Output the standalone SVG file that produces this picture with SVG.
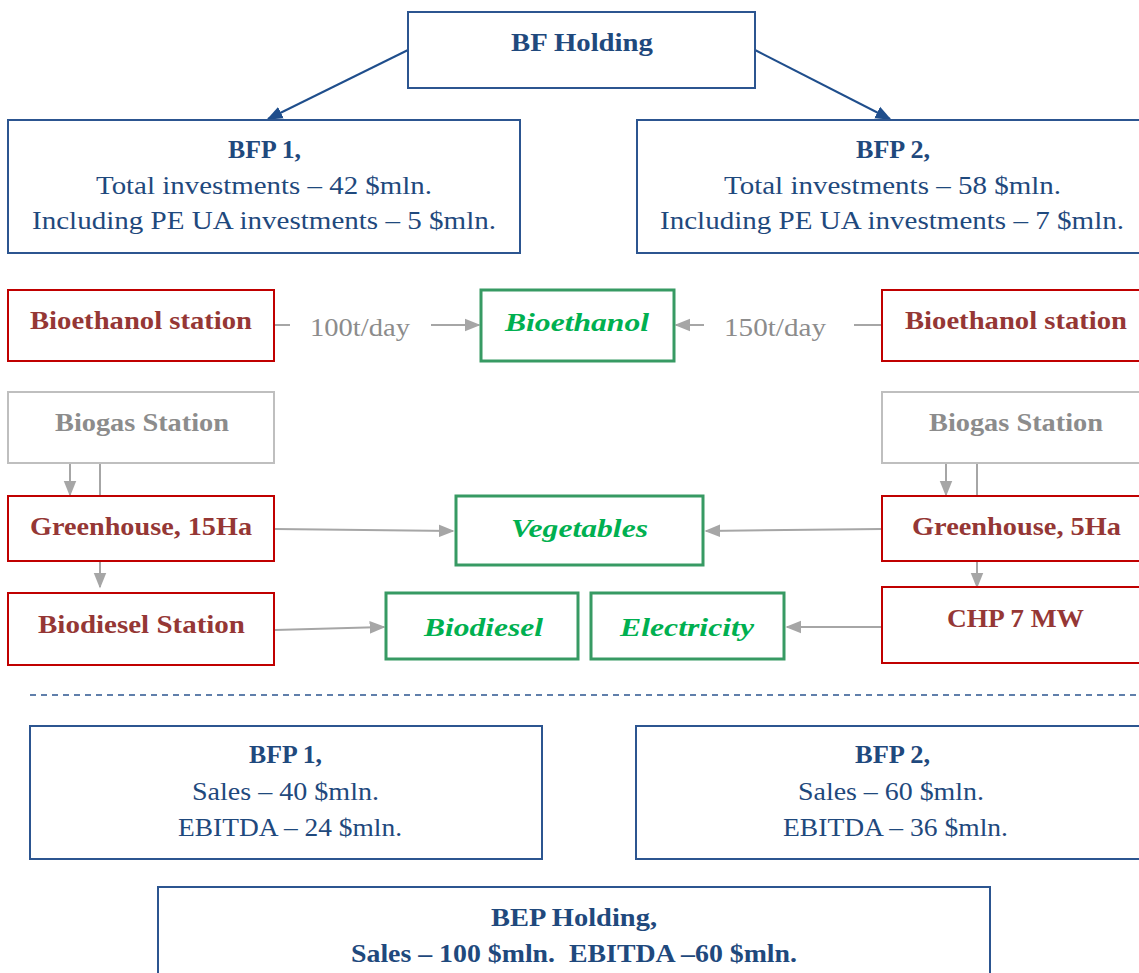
<svg xmlns="http://www.w3.org/2000/svg" width="1139" height="973" viewBox="0 0 1139 973">
<defs>
<marker id="ag" viewBox="0 0 10 10" refX="9" refY="5" markerWidth="16" markerHeight="16" markerUnits="userSpaceOnUse" orient="auto"><path d="M0,1 L10,5 L0,9 z" fill="#a6a6a6"/></marker>
<marker id="abig" viewBox="0 0 10 10" refX="9" refY="5" markerWidth="16" markerHeight="16" markerUnits="userSpaceOnUse" orient="auto"><path d="M0,1 L10,5 L0,9 z" fill="#1f4e8c"/></marker>
</defs>
<style>
text{font-family:"Liberation Serif","DejaVu Serif",serif;text-anchor:middle;font-size:25px}
.blue rect{fill:#fff;stroke:#2c5590;stroke-width:2}
.blue text{fill:#1f497d}
.red rect{fill:#fff;stroke:#c00000;stroke-width:2}
.red text{fill:#953735;font-weight:bold}
.grn rect{fill:#fff;stroke:#379a63;stroke-width:3}
.grn text{fill:#00b050;font-weight:bold;font-style:italic;font-size:26px}
.gry rect{fill:#fff;stroke:#bfbfbf;stroke-width:2}
.gry text{fill:#8c8c8c;font-weight:bold}
.b{font-weight:bold}
.lbl{fill:#8c8c8c}
</style>
<rect width="1139" height="973" fill="#fff"/>

<g id="connectors" fill="none">
<line x1="408" y1="50" x2="268" y2="119" stroke="#1f4e8c" stroke-width="2" marker-end="url(#abig)"/>
<line x1="755" y1="50" x2="890" y2="119" stroke="#1f4e8c" stroke-width="2" marker-end="url(#abig)"/>
<g stroke="#a6a6a6" stroke-width="2">
<line x1="275" y1="325" x2="290" y2="325"/>
<line x1="431" y1="325" x2="479" y2="325" marker-end="url(#ag)"/>
<line x1="704" y1="325" x2="676" y2="325" marker-end="url(#ag)"/>
<line x1="854" y1="325" x2="882" y2="325"/>
<line x1="70" y1="464" x2="70" y2="495" marker-end="url(#ag)"/>
<line x1="100" y1="464" x2="100" y2="495"/>
<line x1="946" y1="464" x2="946" y2="495" marker-end="url(#ag)"/>
<line x1="977" y1="464" x2="977" y2="495"/>
<line x1="100" y1="562" x2="100" y2="587" marker-end="url(#ag)"/>
<line x1="977" y1="562" x2="977" y2="587" marker-end="url(#ag)"/>
<line x1="275" y1="529" x2="453" y2="531" marker-end="url(#ag)"/>
<line x1="882" y1="529" x2="706" y2="531" marker-end="url(#ag)"/>
<line x1="275" y1="630" x2="384" y2="627" marker-end="url(#ag)"/>
<line x1="882" y1="627" x2="787" y2="627" marker-end="url(#ag)"/>
</g>
<line x1="30" y1="695" x2="1139" y2="695" stroke="#2c5590" stroke-width="1.5" stroke-dasharray="6,5"/>
<text class="lbl" x="360" y="336" stroke="none" textLength="100" lengthAdjust="spacingAndGlyphs">100t/day</text>
<text class="lbl" x="775" y="336" stroke="none" textLength="102" lengthAdjust="spacingAndGlyphs">150t/day</text>
</g>

<g id="bf-holding" class="blue"><rect x="408" y="12" width="347" height="76"/><text class="b" x="582" y="51" textLength="142" lengthAdjust="spacingAndGlyphs">BF Holding</text></g>

<g id="bfp1-inv" class="blue"><rect x="8" y="120" width="512" height="133"/>
<text class="b" x="264.5" y="158" textLength="73" lengthAdjust="spacingAndGlyphs">BFP 1,</text>
<text x="264" y="194" textLength="336" lengthAdjust="spacingAndGlyphs">Total investments – 42 $mln.</text>
<text x="264" y="229" textLength="464" lengthAdjust="spacingAndGlyphs">Including PE UA investments – 5 $mln.</text></g>

<g id="bfp2-inv" class="blue"><rect x="637" y="120" width="510" height="133"/>
<text class="b" x="893" y="158" textLength="74" lengthAdjust="spacingAndGlyphs">BFP 2,</text>
<text x="892.5" y="194" textLength="337" lengthAdjust="spacingAndGlyphs">Total investments – 58 $mln.</text>
<text x="892" y="229" textLength="464" lengthAdjust="spacingAndGlyphs">Including PE UA investments – 7 $mln.</text></g>

<g id="bioethanol-station-1" class="red"><rect x="8" y="290" width="266" height="71"/><text x="141" y="329" textLength="222" lengthAdjust="spacingAndGlyphs">Bioethanol station</text></g>
<g id="bioethanol" class="grn"><rect x="481" y="290" width="193" height="71"/><text x="577" y="331" textLength="144" lengthAdjust="spacingAndGlyphs">Bioethanol</text></g>
<g id="bioethanol-station-2" class="red"><rect x="882" y="290" width="265" height="71"/><text x="1016" y="329" textLength="222" lengthAdjust="spacingAndGlyphs">Bioethanol station</text></g>

<g id="biogas-1" class="gry"><rect x="8" y="392" width="266" height="71"/><text x="142" y="431" textLength="174" lengthAdjust="spacingAndGlyphs">Biogas Station</text></g>
<g id="biogas-2" class="gry"><rect x="882" y="392" width="265" height="71"/><text x="1016" y="431" textLength="174" lengthAdjust="spacingAndGlyphs">Biogas Station</text></g>

<g id="greenhouse-15" class="red"><rect x="8" y="496" width="266" height="65"/><text x="141" y="535" textLength="222" lengthAdjust="spacingAndGlyphs">Greenhouse, 15Ha</text></g>
<g id="vegetables" class="grn"><rect x="456" y="496" width="247" height="69"/><text x="579.5" y="537" textLength="137" lengthAdjust="spacingAndGlyphs">Vegetables</text></g>
<g id="greenhouse-5" class="red"><rect x="882" y="496" width="265" height="65"/><text x="1016.5" y="535" textLength="209" lengthAdjust="spacingAndGlyphs">Greenhouse, 5Ha</text></g>

<g id="biodiesel-station" class="red"><rect x="8" y="593" width="266" height="72"/><text x="141.5" y="633" textLength="207" lengthAdjust="spacingAndGlyphs">Biodiesel Station</text></g>
<g id="biodiesel" class="grn"><rect x="386" y="593" width="192" height="66"/><text x="483.5" y="636" textLength="119" lengthAdjust="spacingAndGlyphs">Biodiesel</text></g>
<g id="electricity" class="grn"><rect x="591" y="593" width="193" height="66"/><text x="687" y="636" textLength="134" lengthAdjust="spacingAndGlyphs">Electricity</text></g>
<g id="chp" class="red"><rect x="882" y="587" width="265" height="76"/><text x="1015.5" y="627" textLength="137" lengthAdjust="spacingAndGlyphs">CHP 7 MW</text></g>

<g id="bfp1-sales" class="blue"><rect x="30" y="726" width="512" height="133"/>
<text class="b" x="285.5" y="763" textLength="73" lengthAdjust="spacingAndGlyphs">BFP 1,</text>
<text x="285.5" y="800" textLength="187" lengthAdjust="spacingAndGlyphs">Sales – 40 $mln.</text>
<text x="290" y="836" textLength="224" lengthAdjust="spacingAndGlyphs">EBITDA – 24 $mln.</text></g>

<g id="bfp2-sales" class="blue"><rect x="636" y="726" width="511" height="133"/>
<text class="b" x="892.5" y="763" textLength="75" lengthAdjust="spacingAndGlyphs">BFP 2,</text>
<text x="891" y="800" textLength="186" lengthAdjust="spacingAndGlyphs">Sales – 60 $mln.</text>
<text x="895.5" y="836" textLength="225" lengthAdjust="spacingAndGlyphs">EBITDA – 36 $mln.</text></g>

<g id="bep-holding" class="blue"><rect x="158" y="887" width="832" height="100"/>
<text class="b" x="574" y="926" textLength="166" lengthAdjust="spacingAndGlyphs">BEP Holding,</text>
<text class="b" x="574" y="962" textLength="446" lengthAdjust="spacingAndGlyphs" xml:space="preserve">Sales – 100 $mln.  EBITDA –60 $mln.</text></g>
</svg>
